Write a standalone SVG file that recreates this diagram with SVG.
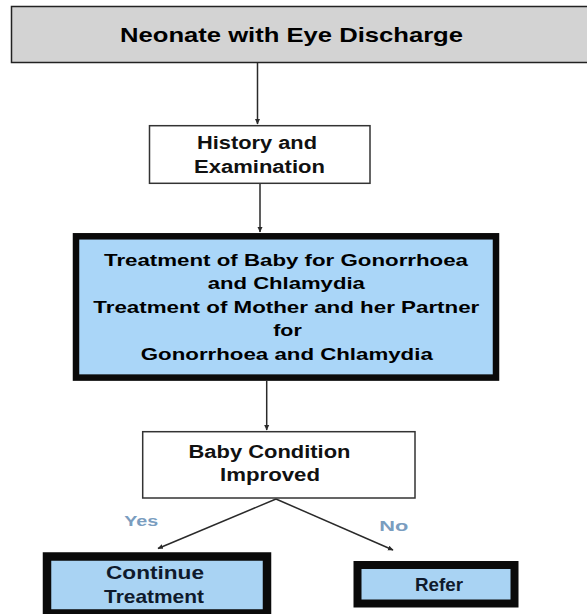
<svg xmlns="http://www.w3.org/2000/svg" width="587" height="614" viewBox="0 0 587 614">
  <style>
    text { font-family: "Liberation Sans", Arial, sans-serif; font-weight: bold; text-anchor: middle; }
    .t { fill: #000; font-size: 17px; }
    .h { fill: #111; font-size: 18px; }
    .title { fill: #000; font-size: 21px; }
    .lbl { fill: #7a9dbf; font-size: 15px; }
    .act { fill: #0f1a2c; font-size: 18.5px; }
    .thin { fill: #fff; stroke: #333; stroke-width: 1.5; }
    .thick { stroke: #0a0a0a; }
    .conn { stroke: #2a2a2a; stroke-width: 1.5; fill: none; }
  </style>
  <defs>
    <marker id="ah" markerWidth="6" markerHeight="6" refX="5" refY="3" orient="auto" markerUnits="userSpaceOnUse">
      <path d="M0,0.5 L5.5,3 L0,5.5 Z" fill="#2a2a2a"/>
    </marker>
  </defs>

  <g id="connectors">
    <line class="conn" x1="257.5" y1="63" x2="257.5" y2="124" marker-end="url(#ah)"/>
    <line class="conn" x1="260" y1="184" x2="260" y2="232" marker-end="url(#ah)"/>
    <line class="conn" x1="266.7" y1="381" x2="266.7" y2="430" marker-end="url(#ah)"/>
    <line class="conn" x1="276" y1="499" x2="158" y2="548.5" marker-end="url(#ah)"/>
    <line class="conn" x1="276" y1="499" x2="393" y2="550" marker-end="url(#ah)"/>
  </g>

  <g id="node-neonate">
    <rect x="11.5" y="6.5" width="590" height="56" fill="#d3d3d3" stroke="#222" stroke-width="1.5"/>
    <text class="title" x="291.5" y="42" textLength="343" lengthAdjust="spacingAndGlyphs">Neonate with Eye Discharge</text>
  </g>

  <g id="node-history">
    <rect class="thin" x="149.5" y="125.7" width="220.5" height="57.6"/>
    <text class="h" x="257" y="149.3" textLength="120" lengthAdjust="spacingAndGlyphs">History and</text>
    <text class="h" x="259.5" y="173.3" textLength="131" lengthAdjust="spacingAndGlyphs">Examination</text>
  </g>

  <g id="node-treatment">
    <rect class="thick" x="76" y="236.3" width="420" height="141.3" fill="#aad6f8" stroke-width="6.5"/>
    <text class="t" x="286" y="265.5" textLength="364" lengthAdjust="spacingAndGlyphs">Treatment of Baby for Gonorrhoea</text>
    <text class="t" x="286.3" y="289" textLength="157" lengthAdjust="spacingAndGlyphs">and Chlamydia</text>
    <text class="t" x="286.3" y="312.5" textLength="386" lengthAdjust="spacingAndGlyphs">Treatment of Mother and her Partner</text>
    <text class="t" x="287.5" y="336" textLength="28.5" lengthAdjust="spacingAndGlyphs">for</text>
    <text class="t" x="286.8" y="359.5" textLength="292" lengthAdjust="spacingAndGlyphs">Gonorrhoea and Chlamydia</text>
  </g>

  <g id="node-improved">
    <rect class="thin" x="142.7" y="431.7" width="272.3" height="66.3"/>
    <text class="h" x="269.5" y="458" textLength="162" lengthAdjust="spacingAndGlyphs">Baby Condition</text>
    <text class="h" x="270" y="481" textLength="100" lengthAdjust="spacingAndGlyphs">Improved</text>
  </g>

  <g id="label-yes">
    <text class="lbl" x="141.3" y="526" textLength="34" lengthAdjust="spacingAndGlyphs">Yes</text>
  </g>
  <g id="label-no">
    <text class="lbl" x="393.8" y="530.7" textLength="29" lengthAdjust="spacingAndGlyphs">No</text>
  </g>

  <g id="node-continue">
    <rect class="thick" x="47" y="556.5" width="220" height="57" fill="#a9d3f3" stroke-width="8.5"/>
    <text class="act" x="155" y="579.3" textLength="98" lengthAdjust="spacingAndGlyphs">Continue</text>
    <text class="act" x="154" y="603.3" textLength="100" lengthAdjust="spacingAndGlyphs">Treatment</text>
  </g>

  <g id="node-refer">
    <rect class="thick" x="357.5" y="565" width="157" height="38.5" fill="#a9d3f3" stroke-width="8"/>
    <text class="act" x="439" y="590.7" textLength="48" lengthAdjust="spacingAndGlyphs">Refer</text>
  </g>
</svg>
